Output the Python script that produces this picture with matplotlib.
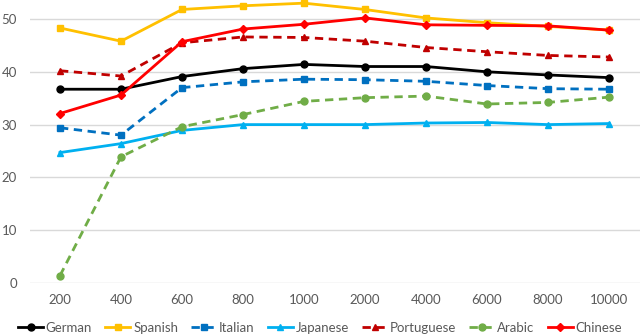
import numpy as np
import matplotlib.pyplot as plt

plt.rcParams['font.family'] = ['Lato', 'DejaVu Sans']

sizes = ['200', '400', '600', '800', '1000', '2000', '4000', '6000', '8000', '10000']
german = [36.7, 36.7, 39.1, 40.6, 41.4, 41.0, 41.0, 40.0, 39.4, 38.9]
spanish = [48.3, 45.8, 51.8, 52.5, 53.0, 51.8, 50.2, 49.3, 48.6, 47.9]
italian = [29.4, 28.0, 37.0, 38.1, 38.6, 38.5, 38.2, 37.4, 36.8, 36.7]
japanese = [24.7, 26.4, 28.9, 30.0, 30.0, 30.0, 30.3, 30.4, 30.0, 30.2]
portuguese = [40.2, 39.2, 45.5, 46.6, 46.5, 45.8, 44.6, 43.8, 43.1, 42.8]
arabic = [1.4, 23.9, 29.6, 31.9, 34.4, 35.1, 35.4, 33.9, 34.2, 35.2]
chinese = [32.1, 35.6, 45.7, 48.1, 49.0, 50.2, 48.9, 48.8, 48.7, 47.9]

fig = plt.figure(figsize=(6.4, 3.36), dpi=100)
ax = fig.add_axes([29.5/640, 53/336, 610/640, 290.4/336])
x = np.arange(len(sizes))

series = [
    ('German', german, '#000000', 'o', '-'),
    ('Spanish', spanish, '#FFC000', 's', '-'),
    ('Italian', italian, '#0070C0', 's', '--'),
    ('Japanese', japanese, '#00B0F0', '^', '-'),
    ('Portuguese', portuguese, '#C00000', '^', '--'),
    ('Arabic', arabic, '#70AD47', 'o', '--'),
    ('Chinese', chinese, '#FF0000', 'D', '-'),
]
for name, vals, col, mk, ls in series:
    ax.plot(x, vals, color=col, marker=mk, linestyle=ls, linewidth=2,
            markersize=5 if mk != 'D' else 4, label=name, clip_on=False,
            dashes=(3, 2) if ls == '--' else (None, None))

ax.set_xlim(-0.5, len(sizes) - 0.5)
ax.set_ylim(0, 55)
ax.set_yticks([0, 10, 20, 30, 40, 50])
ax.set_xticks(x)
ax.set_xticklabels(sizes)
ax.grid(axis='y', color='#D9D9D9', linewidth=1)
ax.set_axisbelow(True)
for s in ['top', 'right', 'left', 'bottom']:
    ax.spines[s].set_visible(False)
ax.tick_params(length=0, labelsize=9.5, colors='#595959', pad=8)
ax.tick_params(axis='y', pad=9)

fig.legend(loc='center', bbox_to_anchor=(0.5, 8/336), ncol=7, frameon=False,
           fontsize=9.5, handlelength=1.9, handletextpad=0.2, columnspacing=1.0,
           labelcolor='#595959', borderpad=0)

plt.savefig('out.png', dpi=100)
